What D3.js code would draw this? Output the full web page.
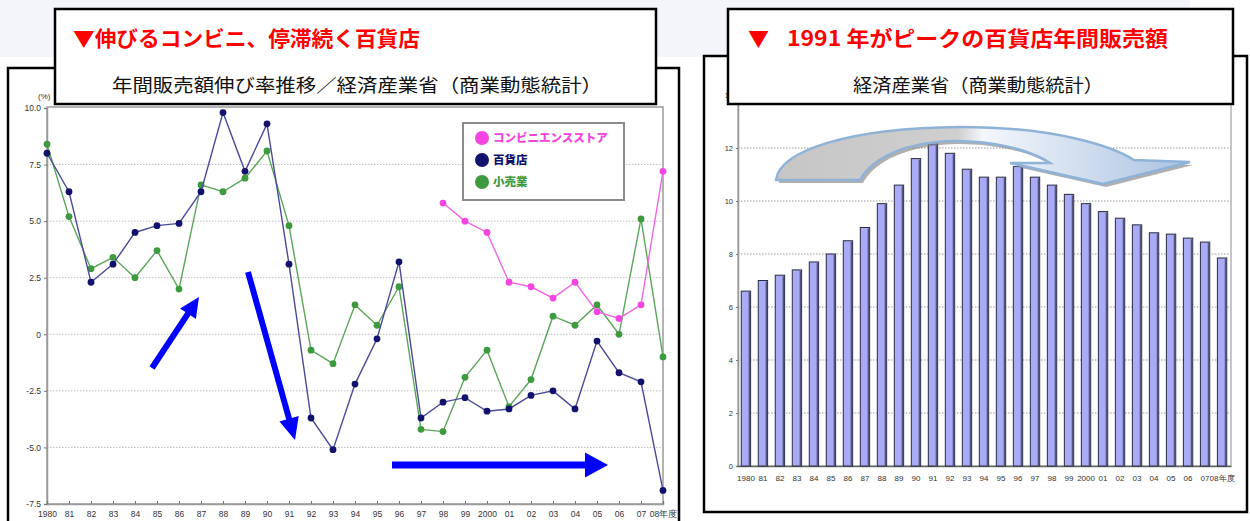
<!DOCTYPE html>
<html>
<head>
<meta charset="utf-8">
<script src="https://cdn.jsdelivr.net/npm/d3@7"></script>
<style>
  body { margin: 0; background: #ffffff; }
  svg { display: block; font-family: "Noto Sans CJK JP", "Noto Sans", sans-serif; }
</style>
</head>
<body>
<svg width="1250" height="521"></svg>
<script>
// Years shared by both charts
var years = d3.range(1980, 2009);
var yearLabels = ["1980", "81", "82", "83", "84", "85", "86", "87", "88", "89", "90", "91", "92", "93", "94",
    "95", "96", "97", "98", "99", "2000", "01", "02", "03", "04", "05", "06", "07", "08年度"];

// Left chart: growth rate of annual sales (%)
var deptGrowth = [8.0, 6.3, 2.3, 3.1, 4.5, 4.8, 4.9, 6.3, 9.8, 7.2, 9.3, 3.1, -3.7, -5.1, -2.2,
    -0.2, 3.2, -3.7, -3.0, -2.8, -3.4, -3.3, -2.7, -2.5, -3.3, -0.3, -1.7, -2.1, -6.9];
var retailGrowth = [8.4, 5.2, 2.9, 3.4, 2.5, 3.7, 2.0, 6.6, 6.3, 6.9, 8.1, 4.8, -0.7, -1.3, 1.3,
    0.4, 2.1, -4.2, -4.3, -1.9, -0.7, -3.2, -2.0, 0.8, 0.4, 1.3, 0.0, 5.1, -1.0];
var convYears = d3.range(1998, 2009);
var convGrowth = [5.8, 5.0, 4.5, 2.3, 2.1, 1.6, 2.3, 1.0, 0.7, 1.3, 7.2];
var growthTicks = [10, 7.5, 5, 2.5, 0, -2.5, -5, -7.5];
var growthTickLabels = ["10.0", "7.5", "5.0", "2.5", "0", "-2.5", "-5.0", "-7.5"];

// Right chart: department store annual sales
var deptSales = [6.6, 7.0, 7.2, 7.4, 7.7, 8.0, 8.5, 9.0, 9.9, 10.6, 11.6, 12.15, 11.8, 11.2, 10.9,
    10.9, 11.3, 10.9, 10.6, 10.25, 9.9, 9.6, 9.35, 9.1, 8.8, 8.75, 8.6, 8.45, 7.85];
var salesTicks = [0, 2, 4, 6, 8, 10, 12, 14];

var svg = d3.select("svg");

// light band behind the headers
svg.append("rect").attr("x", 0).attr("y", 0).attr("width", 1190).attr("height", 57).attr("fill", "#f3f5fa");

// ---------- left panel ----------
svg.append("rect").attr("x", 8).attr("y", 68).attr("width", 671).attr("height", 470)
    .attr("fill", "#fff").attr("stroke", "#000").attr("stroke-width", 2.5);

var lx = d3.scalePoint().domain(years).range([47, 663]),
    ly = d3.scaleLinear().domain([-7.5, 10]).range([504, 108]);

var left = svg.append("g");

// grid
left.selectAll(".lgrid").data(growthTicks.slice(1, 7)).enter().append("line")
    .attr("x1", 47).attr("x2", 663)
    .attr("y1", function(d) { return ly(d); }).attr("y2", function(d) { return ly(d); })
    .attr("stroke", "#bdbdbd").attr("stroke-dasharray", "1.5,1.5");

// frame
left.append("rect").attr("x", 47).attr("y", 107).attr("width", 616).attr("height", 397)
    .attr("fill", "none").attr("stroke", "#9a9a9a").attr("stroke-width", 1.5);

// axes
left.append("g")
    .attr("transform", "translate(47,0)")
    .call(d3.axisLeft(ly).tickValues(growthTicks).tickSize(3)
        .tickFormat(function(d, i) { return growthTickLabels[i]; }))
    .call(function(g) {
        g.select(".domain").attr("stroke", "#9a9a9a").attr("stroke-width", 1.5);
        g.selectAll("line").attr("stroke", "#777");
        g.selectAll("text").attr("font-size", 8.5).attr("fill", "#333").attr("font-family", "Liberation Sans");
    });

left.append("text").attr("x", 38).attr("y", 99).attr("font-size", 8).attr("fill", "#333")
    .attr("font-family", "Liberation Sans").text("(%)");

left.append("g")
    .attr("transform", "translate(0,504)")
    .call(d3.axisBottom(lx).tickSize(-3).tickPadding(7)
        .tickFormat(function(d, i) { return yearLabels[i]; }))
    .call(function(g) {
        g.select(".domain").attr("stroke", "#9a9a9a").attr("stroke-width", 1.5);
        g.selectAll("line").attr("stroke", "#777");
        g.selectAll("text").attr("font-size", 8.5).attr("fill", "#333").attr("font-family", "Liberation Sans");
    });

function drawSeries(xs, vals, lineColor, dotColor) {
    var pts = xs.map(function(y, i) { return [y, vals[i]]; });
    left.append("path").datum(pts)
        .attr("fill", "none").attr("stroke", lineColor).attr("stroke-width", 1.4)
        .attr("d", d3.line().x(function(d) { return lx(d[0]); }).y(function(d) { return ly(d[1]); }));
    left.selectAll(null).data(pts).enter().append("circle")
        .attr("cx", function(d) { return lx(d[0]); })
        .attr("cy", function(d) { return ly(d[1]); })
        .attr("r", 3.4).attr("fill", dotColor);
}
drawSeries(years, retailGrowth, "#5aa65a", "#3e9a3e");
drawSeries(years, deptGrowth, "#4a4a9c", "#12126e");
drawSeries(convYears, convGrowth, "#f066e6", "#f545e0");

// legend
var legend = left.append("g");
legend.append("rect").attr("x", 463).attr("y", 123).attr("width", 161).attr("height", 77)
    .attr("fill", "#fff").attr("stroke", "#8c8c8c").attr("stroke-width", 2);
var legendItems = [
    {name: "コンビニエンスストア", color: "#f545e0"},
    {name: "百貨店", color: "#12126e"},
    {name: "小売業", color: "#3e9a3e"}
];
legendItems.forEach(function(d, i) {
    legend.append("circle").attr("cx", 482).attr("cy", 138 + i * 22).attr("r", 7).attr("fill", d.color);
    legend.append("text").attr("x", 493).attr("y", 142 + i * 22).attr("font-size", 11.5)
        .attr("font-weight", 900).attr("fill", d.color).text(d.name);
});

// blue annotation arrows
function arrow(x1, y1, x2, y2, w, hl, hw) {
    var dx = x2 - x1, dy = y2 - y1, len = Math.sqrt(dx * dx + dy * dy);
    var ux = dx / len, uy = dy / len, nx = -uy, ny = ux;
    var bx = x2 - ux * hl, by = y2 - uy * hl;
    var p = [
        [x1 + nx * w / 2, y1 + ny * w / 2], [bx + nx * w / 2, by + ny * w / 2], [bx + nx * hw / 2, by + ny * hw / 2],
        [x2, y2],
        [bx - nx * hw / 2, by - ny * hw / 2], [bx - nx * w / 2, by - ny * w / 2], [x1 - nx * w / 2, y1 - ny * w / 2]
    ];
    svg.append("polygon").attr("points", p.map(function(q) { return q.join(","); }).join(" ")).attr("fill", "#0000ff");
}
arrow(152, 368, 199, 297, 6, 20, 19);
arrow(248, 272, 295, 440, 6, 22, 20);
arrow(392, 465, 608, 465, 7, 23, 25);

// left title box
svg.append("rect").attr("x", 55).attr("y", 9).attr("width", 601).attr("height", 95)
    .attr("fill", "#fff").attr("stroke", "#000").attr("stroke-width", 2.5);
svg.append("text").attr("x", 73).attr("y", 46).attr("font-size", 21).attr("font-weight", "bold")
    .attr("fill", "#ff0000").attr("textLength", 347).attr("lengthAdjust", "spacingAndGlyphs")
    .text("▼伸びるコンビニ、停滞続く百貨店");
svg.append("text").attr("x", 112).attr("y", 92).attr("font-size", 18).attr("fill", "#111")
    .attr("textLength", 490).attr("lengthAdjust", "spacingAndGlyphs")
    .text("年間販売額伸び率推移／経済産業省（商業動態統計）");

// ---------- right panel ----------
svg.append("rect").attr("x", 704).attr("y", 56).attr("width", 543).attr("height", 456)
    .attr("fill", "#fff").attr("stroke", "#000").attr("stroke-width", 2.5);

var rx = d3.scaleBand().domain(years).range([737, 1231]).paddingInner(0.45).paddingOuter(0.25),
    ry = d3.scaleLinear().domain([0, 14]).range([466, 95]);

var right = svg.append("g");

right.selectAll(".rgrid").data(salesTicks.slice(1, 7)).enter().append("line")
    .attr("x1", 738).attr("x2", 1231)
    .attr("y1", function(d) { return ry(d); }).attr("y2", function(d) { return ry(d); })
    .attr("stroke", "#9a9a9a").attr("stroke-dasharray", "1.5,1.5");

right.append("rect").attr("x", 738).attr("y", 95).attr("width", 493).attr("height", 371)
    .attr("fill", "none").attr("stroke", "#b5b5b5").attr("stroke-width", 1.5);

right.append("g")
    .attr("transform", "translate(738,0)")
    .call(d3.axisLeft(ry).tickValues(salesTicks).tickSize(2))
    .call(function(g) {
        g.select(".domain").attr("stroke", "#999").attr("stroke-width", 1.5);
        g.selectAll("line").attr("stroke", "#777");
        g.selectAll("text").attr("font-size", 7.5).attr("fill", "#333").attr("font-family", "Liberation Sans");
    });

right.append("g")
    .attr("transform", "translate(0,466)")
    .call(d3.axisBottom(rx).tickSize(0).tickPadding(9)
        .tickFormat(function(d, i) { return yearLabels[i]; }))
    .call(function(g) {
        g.select(".domain").attr("stroke", "#666").attr("stroke-width", 1.5);
        g.selectAll("text").attr("font-size", 8).attr("fill", "#333").attr("font-family", "Liberation Sans Narrow, Liberation Sans");
    });

// bars with a thin shaded edge
right.selectAll(".bar").data(years).enter().append("rect")
    .attr("class", "bar")
    .attr("x", function(d) { return rx(d); })
    .attr("y", function(d, i) { return ry(deptSales[i]); })
    .attr("width", rx.bandwidth())
    .attr("height", function(d, i) { return 466 - ry(deptSales[i]); })
    .attr("fill", "#a9abf6").attr("stroke", "#2a2a40").attr("stroke-width", 1);
right.selectAll(".edge").data(years).enter().append("rect")
    .attr("x", function(d) { return rx(d) + rx.bandwidth() - 2; })
    .attr("y", function(d, i) { return ry(deptSales[i]) + 1; })
    .attr("width", 1.5)
    .attr("height", function(d, i) { return 465 - ry(deptSales[i]); })
    .attr("fill", "#55557a");

// curved arrow over the peak
var defs = svg.append("defs");
var grad = defs.append("linearGradient").attr("id", "arcFill").attr("x1", "0%").attr("x2", "100%");
grad.append("stop").attr("offset", "0%").attr("stop-color", "#c6c6c6");
grad.append("stop").attr("offset", "44%").attr("stop-color", "#cfcfcf");
grad.append("stop").attr("offset", "50%").attr("stop-color", "#f4f7fc");
grad.append("stop").attr("offset", "100%").attr("stop-color", "#a9c2e0");

var arcPath = "M776,180 C780,150 850,128 960,127 C1055,127 1112,146 1134,160 L1190,162 L1103,184 L1010,163 L1050,163 " +
    "C1030,150 995,141 955,141 C905,142 872,158 860,180 Z";
svg.append("path").attr("d", arcPath).attr("transform", "translate(3,3)").attr("fill", "#7a7a7a").attr("opacity", 0.6);
svg.append("path").attr("d", arcPath).attr("fill", "url(#arcFill)").attr("stroke", "#8fb2d8").attr("stroke-width", 2.5);

// right title box
svg.append("rect").attr("x", 728).attr("y", 9).attr("width", 505).attr("height", 95)
    .attr("fill", "#fff").attr("stroke", "#000").attr("stroke-width", 2.5);
svg.append("text").attr("x", 748).attr("y", 46).attr("font-size", 21).attr("font-weight", "bold")
    .attr("fill", "#ff0000").text("▼");
svg.append("text").attr("x", 787).attr("y", 46).attr("font-size", 21).attr("font-weight", "bold")
    .attr("fill", "#ff0000").attr("textLength", 381).attr("lengthAdjust", "spacingAndGlyphs")
    .text("1991 年がピークの百貨店年間販売額");
svg.append("text").attr("x", 853).attr("y", 92).attr("font-size", 18).attr("fill", "#111")
    .attr("textLength", 250).attr("lengthAdjust", "spacingAndGlyphs")
    .text("経済産業省（商業動態統計）");
</script>
</body>
</html>
